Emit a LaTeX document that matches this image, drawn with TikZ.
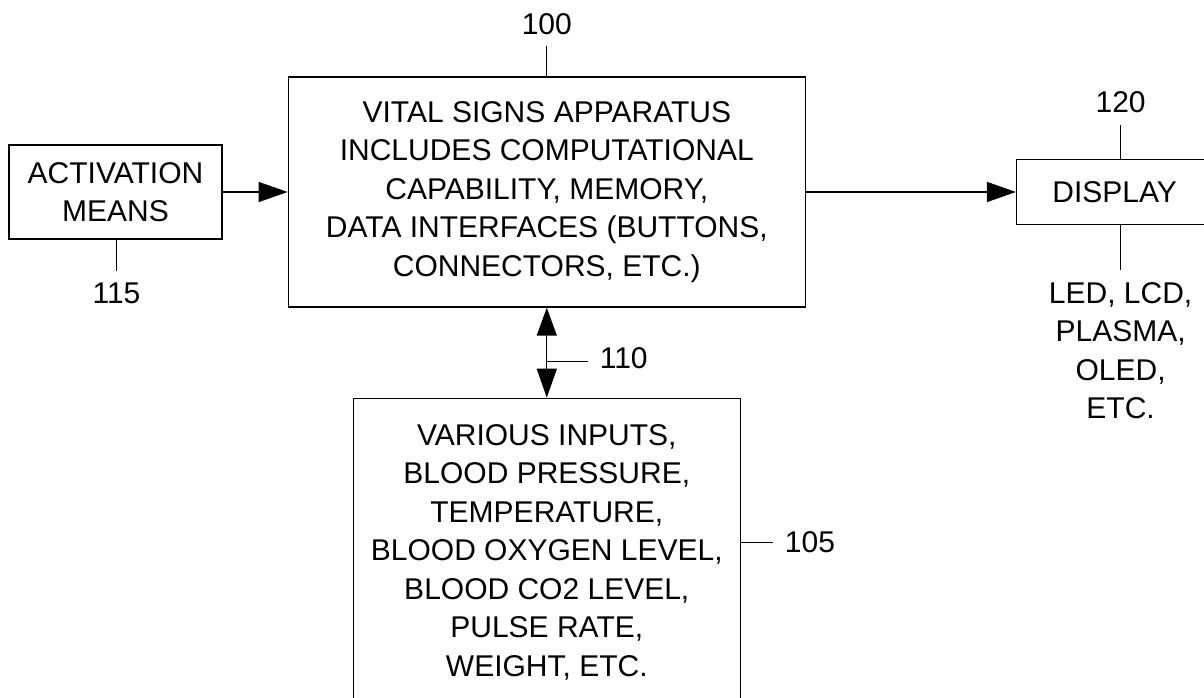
\documentclass[tikz,border=0pt]{standalone}
\usepackage{fontspec}
\setmainfont{Liberation Sans}
\usetikzlibrary{arrows.meta,positioning}
\tikzset
{
    block/.style = {rectangle, draw=black, line width=1.3pt, align=center, inner sep=0pt},
    tag/.style   = {inner sep=0pt, outer sep=12pt, align=center},
    arrow/.style = {line width=1.3pt, -{Triangle[length=29pt,width=20pt]}},
    twoway/.style = {line width=1.3pt, {Triangle[length=28pt,width=20pt]}-{Triangle[length=29pt,width=20pt]}},
    lead/.style  = {line width=1.3pt}
}

\begin{document}
\begin{tikzpicture}[x=1pt, y=1pt, font=\fontsize{30}{38.5}\selectfont]
	\useasboundingbox (0,0) rectangle (1204,698);
	\clip (0,0) rectangle (1204,698);
	\node (act) [block, minimum width=213pt, minimum height=94pt] at (115.5,506) {ACTIVATION\\MEANS};
	\node (main) [block, right=65pt of act, minimum width=517pt, minimum height=230pt] {VITAL SIGNS APPARATUS\\INCLUDES COMPUTATIONAL\\CAPABILITY, MEMORY,\\DATA INTERFACES (BUTTONS,\\CONNECTORS, ETC.)};
	\node (disp) [block, right=210pt of main, minimum width=196pt, minimum height=65pt] {DISPLAY};
	\node (inputs) [block, below=90pt of main, minimum width=387pt, minimum height=308pt] {VARIOUS INPUTS,\\BLOOD PRESSURE,\\TEMPERATURE,\\BLOOD OXYGEN LEVEL,\\BLOOD CO2 LEVEL,\\PULSE RATE,\\WEIGHT, ETC.};

	\draw [arrow] (act) -- (main);
	\draw [arrow] (main) -- (disp);
	\draw [twoway] (main) -- node[coordinate, pos=0.6] (mid) {} (inputs);

	% reference numerals
	\node (lbl100) [tag, above=30pt of main.north] {100};
	\node (lbl115) [tag, below=31pt of act.south, xshift=1pt] {115};
	\node (lbl120) [tag, above=34pt of disp.north, xshift=6pt] {120};
	\node (types) [tag, below=45pt of disp.south, xshift=6pt] {LED, LCD,\\PLASMA,\\OLED,\\ETC.};
	\node (lbl110) [tag, right=41pt of mid, yshift=3pt] {110};
	\node (lbl105) [tag, right=32pt of inputs.east, yshift=10pt] {105};

	\draw [lead] (main.north) -- (lbl100.south);
	\draw [lead] (act.south -| lbl115) -- (lbl115.north);
	\draw [lead] (disp.north -| lbl120) -- (lbl120.south);
	\draw [lead] (disp.south -| types) -- (types.north);
	\draw [lead] (mid) -- (mid -| lbl110.west);
	\draw [lead] (inputs.east |- lbl105) -- (lbl105.west);
\end{tikzpicture}
\end{document}
